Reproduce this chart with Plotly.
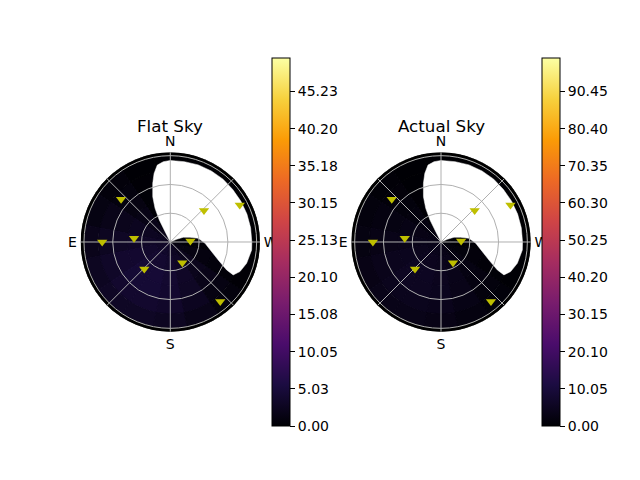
import plotly.graph_objects as go

# --- Data ---
# sky grid: azimuth sector centres (deg, N=0, E=90) and zenith ring starts (deg)
AZIMUTH = [0, 22.5, 45, 67.5, 90, 112.5, 135, 157.5,
           180, 202.5, 225, 247.5, 270, 292.5, 315, 337.5]
ZENITH = [0, 15, 30, 45, 60, 75]

# brightness per ring (rows) and sector (columns)
FLAT_SKY = [
    [0, 1.0, 2.0, 2.5, 3.0, 3.2, 3.5, 3.5, 3.2, 2.7, 2.0, 1.2, 0.5, 0, 0, 0],
    [0, 0.5, 1.8, 2.6, 3.2, 3.6, 4.0, 4.0, 3.6, 3.0, 2.2, 1.2, 0.3, 0, 0, 0],
    [0, 0.3, 1.5, 2.5, 3.2, 3.9, 4.5, 4.5, 4.0, 3.2, 2.2, 1.0, 0.2, 0, 0, 0],
    [0, 0.3, 1.2, 2.2, 3.0, 3.8, 4.4, 4.4, 3.9, 3.0, 1.8, 0.7, 0.1, 0, 0, 0],
    [0, 0.2, 0.9, 1.8, 2.6, 3.3, 3.8, 3.8, 3.4, 2.5, 1.3, 0.4, 0.1, 0, 0, 0],
    [0, 0.1, 0.6, 1.3, 2.0, 2.6, 3.0, 3.0, 2.6, 1.8, 0.8, 0.2, 0, 0, 0, 0],
]
ACTUAL_SKY = [
    [0, 1.2, 2.4, 3.0, 3.6, 3.8, 4.2, 4.2, 3.8, 3.2, 2.4, 1.4, 0.6, 0, 0, 0],
    [0, 0.6, 2.2, 3.1, 3.8, 4.3, 4.8, 4.8, 4.3, 3.6, 2.6, 1.4, 0.4, 0, 0, 0],
    [0, 0.4, 1.8, 3.0, 3.8, 4.7, 5.4, 5.4, 4.8, 3.8, 2.6, 1.2, 0.2, 0, 0, 0],
    [0, 0.4, 1.4, 2.6, 3.6, 4.6, 5.3, 5.3, 4.7, 3.6, 2.2, 0.8, 0.1, 0, 0, 0],
    [0, 0.2, 1.1, 2.2, 3.1, 4.0, 4.6, 4.6, 4.1, 3.0, 1.6, 0.5, 0.1, 0, 0, 0],
    [0, 0.1, 0.7, 1.6, 2.4, 3.1, 3.6, 3.6, 3.1, 2.2, 1.0, 0.2, 0, 0, 0, 0],
]
FLAT_MAX = 49.75
ACTUAL_MAX = 99.5

# masked (no data) region outline
MASK_AZ = [0, 27, 26.6, 24.4, 21.2, 16.7, 13.3, 9.6, 5, 0,
           350, 340, 330, 320, 310, 300, 290, 280, 270, 264.4,
           254.4, 247, 242.4, 243.6, 249.4, 256.8, 268, 277.5,
           283.4, 290, 293, 0]
MASK_ZEN = [0, 12, 25.6, 38.5, 50.6, 63.8, 73.5, 81.3, 84, 85,
            85, 85.5, 85.5, 85.5, 85, 85, 85, 85, 85, 85.2,
            82.6, 78.9, 74, 65.6, 53.4, 44.3, 36.2, 29.4,
            21.1, 14.4, 7.2, 0]

# stars
STAR_AZ = [49, 90, 84, 136, 210, 273, 313, 298, 220]
STAR_ZEN = [68, 71, 38, 39, 25, 21, 48, 82, 81]

FLAT_TICKS = ["0.00", "5.03", "10.05", "15.08", "20.10",
              "25.13", "30.15", "35.18", "40.20", "45.23"]
ACTUAL_TICKS = ["0.00", "10.05", "20.10", "30.15", "40.20",
                "50.25", "60.30", "70.35", "80.40", "90.45"]

COMPASS = ["N", "", "E", "", "S", "", "W", ""]
RMAX = 93.5
FONT = "DejaVu Sans"


def sky_cells(values, cmax, ticks, cbar_x, subplot):
    theta, base, color = [], [], []
    for i, z0 in enumerate(ZENITH):
        for j, az in enumerate(AZIMUTH):
            theta.append(az)
            base.append(z0)
            color.append(values[i][j])
    n = len(theta)
    return go.Barpolar(
        theta=theta, r=[15] * n, base=base, width=[22.5] * n,
        marker=dict(
            color=color, colorscale="Inferno", cmin=0, cmax=cmax,
            line=dict(color=color, colorscale="Inferno", cmin=0, cmax=cmax, width=1),
            colorbar=dict(
                x=cbar_x, xanchor="left", y=0.4958, yanchor="middle",
                len=368 / 480, lenmode="fraction", thickness=18,
                xpad=0, ypad=0, outlinecolor="black", outlinewidth=1,
                tickmode="array", tickvals=[float(t) for t in ticks], ticktext=ticks,
                ticks="outside", ticklen=5, tickcolor="black",
                tickfont=dict(size=14, color="black", family=FONT),
            ),
        ),
        subplot=subplot, hoverinfo="skip", showlegend=False,
    )


def edge_ring(subplot):
    return go.Barpolar(
        theta=[0, 90, 180, 270], r=[RMAX - 90] * 4, base=[90] * 4, width=[90] * 4,
        marker=dict(color="black", line=dict(color="black", width=1)),
        subplot=subplot, hoverinfo="skip", showlegend=False,
    )


def mask(subplot):
    return go.Scatterpolar(
        theta=MASK_AZ, r=MASK_ZEN, mode="lines", fill="toself",
        fillcolor="white", line=dict(color="white", width=0.5),
        subplot=subplot, hoverinfo="skip", showlegend=False,
    )


def stars(subplot):
    return go.Scatterpolar(
        theta=STAR_AZ, r=STAR_ZEN, mode="markers",
        marker=dict(symbol="triangle-down", size=9, color="#bfbf00"),
        subplot=subplot, hoverinfo="skip", showlegend=False,
    )


def polar_axes(x0, x1, front=False):
    # the back subplot holds the sky image, the front one (transparent)
    # holds grid, compass labels and stars so the grid sits over the image
    domain = dict(x=[x0, x1], y=[0.30896, 0.68271])
    if not front:
        return dict(
            domain=domain, bgcolor="white",
            angularaxis=dict(rotation=90, direction="counterclockwise",
                             showgrid=False, showline=False, showticklabels=False, ticks=""),
            radialaxis=dict(range=[0, RMAX], showgrid=False, showline=False,
                            showticklabels=False, ticks=""),
        )
    return dict(
        domain=domain, bgcolor="rgba(0,0,0,0)",
        angularaxis=dict(
            rotation=90, direction="counterclockwise",
            tickmode="array", tickvals=[0, 45, 90, 135, 180, 225, 270, 315],
            ticktext=COMPASS, ticks="outside", ticklen=0.5, tickcolor="rgba(0,0,0,0)",
            showline=False, gridcolor="#b0b0b0", gridwidth=1.1,
            tickfont=dict(size=14, color="black", family=FONT),
        ),
        radialaxis=dict(
            range=[0, RMAX], tickvals=[30, 60, 90], showticklabels=False,
            ticks="", showline=False, gridcolor="#b0b0b0", gridwidth=1.1,
        ),
    )


fig = go.Figure()
fig.add_trace(sky_cells(FLAT_SKY, FLAT_MAX, FLAT_TICKS, 272 / 640, "polar"))
fig.add_trace(edge_ring("polar"))
fig.add_trace(mask("polar"))
fig.add_trace(stars("polar2"))
fig.add_trace(sky_cells(ACTUAL_SKY, ACTUAL_MAX, ACTUAL_TICKS, 542 / 640, "polar3"))
fig.add_trace(edge_ring("polar3"))
fig.add_trace(mask("polar3"))
fig.add_trace(stars("polar4"))

fig.update_layout(
    width=640, height=480,
    margin=dict(l=0, r=0, t=0, b=0),
    paper_bgcolor="white",
    font=dict(family=FONT, color="black"),
    showlegend=False,
    bargap=0,
    polar=polar_axes(0.12594, 0.40625),
    polar2=polar_axes(0.12594, 0.40625, front=True),
    polar3=polar_axes(0.54891, 0.82922),
    polar4=polar_axes(0.54891, 0.82922, front=True),
    annotations=[
        dict(text="Flat Sky", x=170.3 / 640, y=354 / 480, xref="paper", yref="paper",
             xanchor="center", yanchor="middle",
             showarrow=False, font=dict(size=16.7, color="black")),
        dict(text="Actual Sky", x=441 / 640, y=354 / 480, xref="paper", yref="paper",
             xanchor="center", yanchor="middle",
             showarrow=False, font=dict(size=16.7, color="black")),
    ],
)

# the page body has a default 8px margin; drop it so the figure sits at 0,0
fig.write_html("out.html", config={"displayModeBar": False},
               post_script="document.body.style.margin='0px';")
